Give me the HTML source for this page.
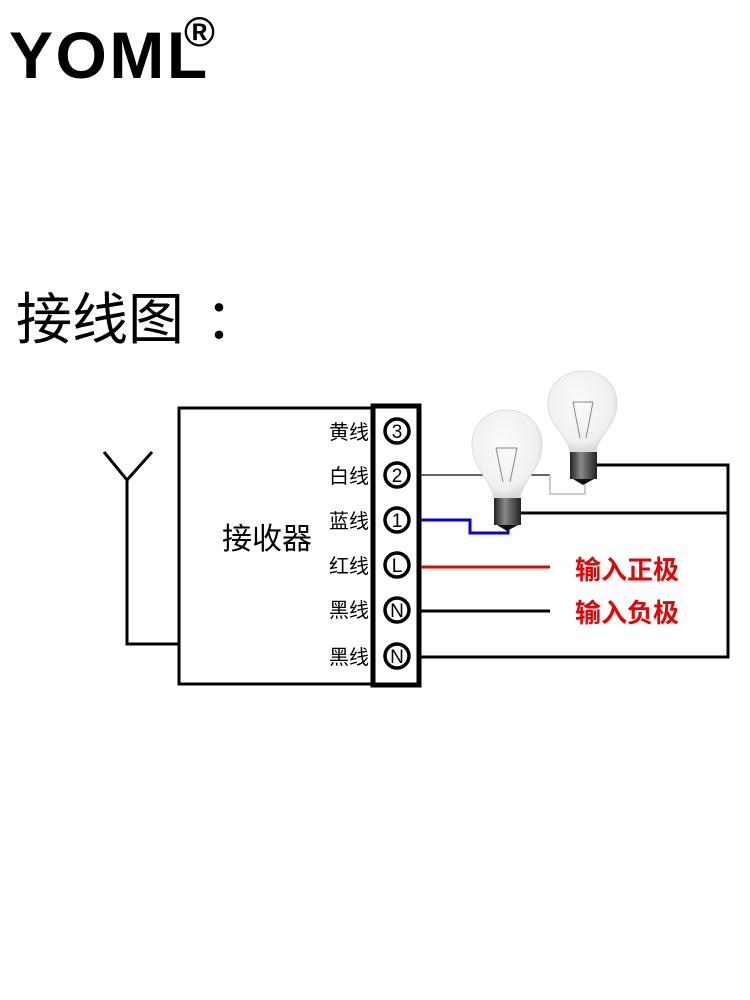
<!DOCTYPE html>
<html><head><meta charset="utf-8"><style>
body{margin:0;background:#fff;width:750px;height:1000px;overflow:hidden}
svg{display:block}
</style></head><body>
<svg width="750" height="1000" viewBox="0 0 750 1000" xmlns="http://www.w3.org/2000/svg">
<defs>
<radialGradient id="glass" cx="0.45" cy="0.4" r="0.6">
<stop offset="0" stop-color="#fafafa"/><stop offset="0.8" stop-color="#f0f0f0"/><stop offset="1" stop-color="#d8d8d8"/>
</radialGradient>
<linearGradient id="base" x1="0" x2="1">
<stop offset="0" stop-color="#222"/><stop offset="0.4" stop-color="#888"/><stop offset="1" stop-color="#222"/>
</linearGradient>
</defs>
<text x="9" y="78" font-family="Liberation Sans, sans-serif" font-weight="bold" font-size="66" letter-spacing="2.5">YOML</text>
<text x="184" y="46" font-family="Liberation Sans, sans-serif" font-weight="bold" font-size="42">®</text>
<text x="16" y="339" font-family="Liberation Sans, 'Noto Sans CJK SC', sans-serif" font-size="56">接线图</text>
<text x="205" y="339" font-family="Liberation Sans, 'Noto Sans CJK SC', sans-serif" font-size="56">：</text>

<!-- antenna -->
<g stroke="#000" stroke-width="3" fill="none">
<polyline points="104,452 127,480 152,452"/>
<polyline points="127,478 127,644 178,644"/>
</g>
<!-- receiver box -->
<rect x="179" y="408" width="195" height="276" fill="#fff" stroke="#000" stroke-width="3"/>
<rect x="373" y="406" width="46" height="279" fill="#fff" stroke="#000" stroke-width="5"/>
<text x="222" y="549" font-family="Liberation Sans, 'Noto Sans CJK SC', sans-serif" font-size="30">接收器</text>
<g font-family="Liberation Sans, 'Noto Sans CJK SC', sans-serif" font-size="20" text-anchor="end">
<text x="369" y="439">黄线</text>
<text x="369" y="483">白线</text>
<text x="369" y="528">蓝线</text>
<text x="369" y="573">红线</text>
<text x="369" y="617">黑线</text>
<text x="369" y="664">黑线</text>
</g>
<g fill="#fff" stroke="#000" stroke-width="3.5">
<circle cx="397" cy="431" r="12"/><circle cx="397" cy="475" r="12"/><circle cx="397" cy="520" r="12"/>
<circle cx="397" cy="565" r="12"/><circle cx="397" cy="610" r="12"/><circle cx="397" cy="656" r="12"/>
</g>
<g font-family="Liberation Sans, sans-serif" font-size="19" text-anchor="middle">
<text x="397" y="438">3</text><text x="397" y="482">2</text><text x="397" y="527">1</text>
<text x="397" y="572">L</text><text x="397" y="617">N</text><text x="397" y="663">N</text>
</g>

<!-- wires -->
<line x1="421" y1="475" x2="550" y2="475" stroke="#333" stroke-width="1.5"/>
<polyline points="550,475 550,494 585,494 585,480" fill="none" stroke="#ccc" stroke-width="2"/>
<polyline points="421,520 470,520 470,533 508,533 508,525" fill="none" stroke="#0000ee" stroke-width="3"/>
<line x1="421" y1="567" x2="550" y2="567" stroke="#e00" stroke-width="3"/>
<line x1="421" y1="611" x2="550" y2="611" stroke="#000" stroke-width="3"/>
<polyline points="421,657 728,657 728,465 597,465" fill="none" stroke="#000" stroke-width="3"/>
<line x1="520" y1="513" x2="728" y2="513" stroke="#000" stroke-width="3"/>
<text x="575" y="579" font-family="Liberation Sans, 'Noto Sans CJK SC', sans-serif" font-size="26" font-weight="bold" fill="#e00">输入正极</text>
<text x="575" y="622" font-family="Liberation Sans, 'Noto Sans CJK SC', sans-serif" font-size="26" font-weight="bold" fill="#e00">输入负极</text>

<!-- bulb 2 -->
<g>
<path d="M570,452 C566,432 548,425 548,404 C548,384 564,371 583,371 C602,371 617,384 617,404 C617,425 600,432 596,452 Z" fill="url(#glass)" stroke="#ddd" stroke-width="1"/>
<path d="M573,402 L580,438 M593,402 L586,438 M573,402 L593,402" stroke="#888" stroke-width="1" fill="none"/>
<rect x="570" y="452" width="27" height="27" fill="url(#base)"/>
<path d="M573,479 L594,479 L583,485 Z" fill="#111"/>
</g>
<!-- bulb 1 -->
<g>
<path d="M494,498 C490,478 472,468 472,445 C472,424 488,410 507,410 C526,410 542,424 542,445 C542,468 524,478 520,498 Z" fill="url(#glass)" stroke="#ddd" stroke-width="1"/>
<path d="M496,448 L503,482 M517,448 L510,482 M496,448 L517,448" stroke="#888" stroke-width="1" fill="none"/>
<rect x="494" y="498" width="27" height="27" fill="url(#base)"/>
<path d="M497,525 L518,525 L507,531 Z" fill="#111"/>
</g>
</svg>
</body></html>
